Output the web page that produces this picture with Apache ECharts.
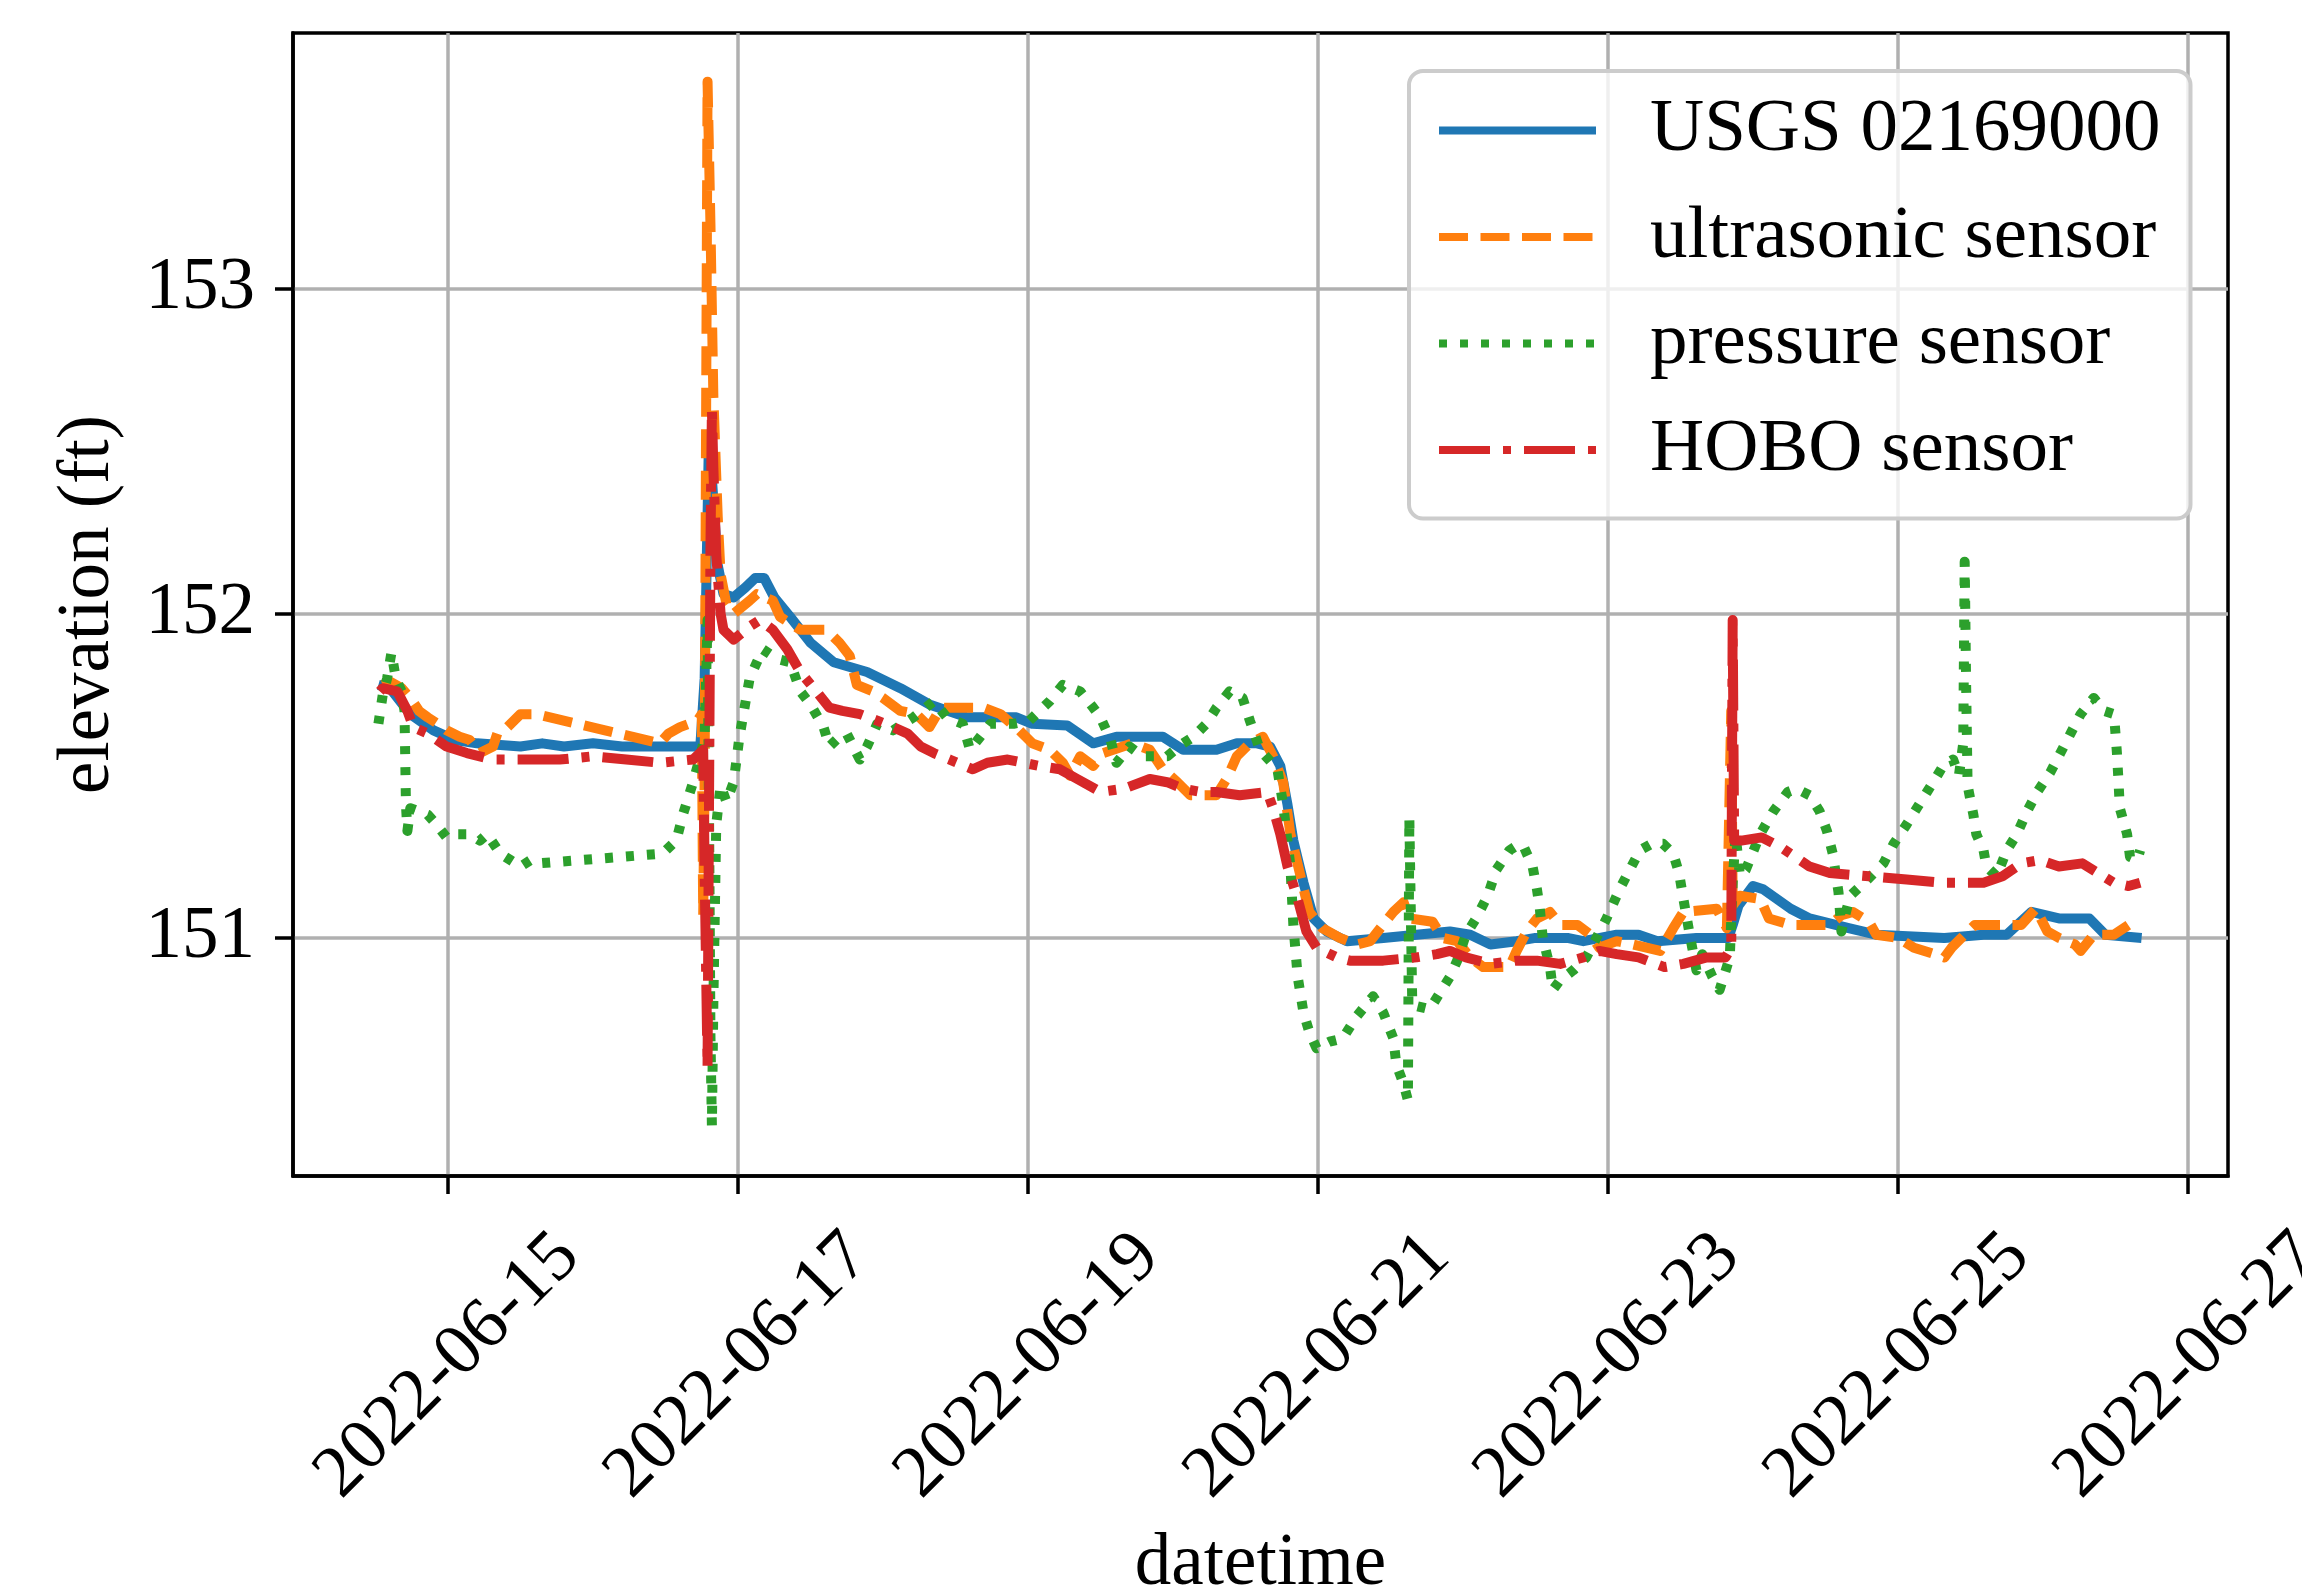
<!DOCTYPE html>
<html><head><meta charset="utf-8">
<script src="https://cdn.jsdelivr.net/npm/echarts@6/dist/echarts.min.js"></script>
<style>html,body{margin:0;padding:0;background:#fff}#chart{width:2302px;height:1588px}</style>
</head><body><div id="chart"></div>
<script>
// x values: fractional day of June 2022 (e.g. 14.5 = 2022-06-14 12:00)
const xTickDays = [15, 17, 19, 21, 23, 25, 27];
const yTicks = [151, 152, 153];
const seriesNames = ['USGS 02169000', 'ultrasonic sensor', 'pressure sensor', 'HOBO sensor'];

const usgsData = [[14.52,151.78],[14.60,151.77],[14.74,151.69],[14.90,151.64],[15.05,151.61],[15.2,151.60],[15.5,151.59],[15.65,151.60],[15.8,151.59],[16.0,151.60],[16.2,151.59],[16.5,151.59],[16.74,151.59],[16.77,151.80],[16.79,152.30],[16.80,152.55],[16.83,152.35],[16.86,152.15],[16.90,152.06],[16.97,152.05],[17.05,152.08],[17.12,152.11],[17.18,152.11],[17.25,152.05],[17.36,151.99],[17.5,151.91],[17.66,151.85],[17.89,151.82],[18.12,151.77],[18.32,151.72],[18.58,151.68],[18.92,151.68],[19.03,151.66],[19.27,151.655],[19.45,151.60],[19.61,151.62],[19.93,151.62],[20.07,151.58],[20.30,151.58],[20.44,151.60],[20.58,151.60],[20.67,151.59],[20.74,151.53],[20.79,151.41],[20.83,151.30],[20.90,151.17],[20.97,151.06],[21.06,151.02],[21.20,150.99],[21.45,151.00],[21.68,151.01],[21.91,151.02],[22.05,151.01],[22.19,150.98],[22.37,150.99],[22.5,151.00],[22.72,151.00],[22.83,150.99],[23.06,151.01],[23.21,151.01],[23.34,150.99],[23.61,151.00],[23.83,151.00],[23.86,151.04],[23.90,151.10],[24.00,151.16],[24.07,151.15],[24.26,151.09],[24.39,151.06],[24.66,151.03],[24.85,151.01],[25.32,151.00],[25.59,151.01],[25.75,151.01],[25.92,151.08],[26.11,151.06],[26.32,151.06],[26.43,151.01],[26.68,151.00]];

const ultrasonicData = [[14.55,151.78],[14.60,151.79],[14.68,151.77],[14.74,151.74],[14.80,151.70],[14.86,151.68],[14.93,151.66],[14.99,151.64],[15.08,151.62],[15.15,151.61],[15.22,151.57],[15.31,151.59],[15.34,151.63],[15.41,151.65],[15.50,151.69],[15.61,151.69],[16.46,151.60],[16.52,151.63],[16.60,151.65],[16.72,151.67],[16.75,151.69],[16.76,151.07],[16.77,151.5],[16.78,152.6],[16.79,153.64],[16.81,153.2],[16.83,152.67],[16.86,152.3],[16.88,152.12],[16.92,152.03],[16.97,152.0],[17.08,152.04],[17.13,152.06],[17.24,152.04],[17.29,151.99],[17.36,151.97],[17.43,151.95],[17.61,151.95],[17.70,151.91],[17.77,151.87],[17.82,151.78],[17.93,151.76],[18.0,151.74],[18.12,151.70],[18.23,151.69],[18.32,151.65],[18.40,151.71],[18.69,151.71],[18.81,151.69],[18.94,151.64],[19.03,151.60],[19.15,151.58],[19.24,151.54],[19.29,151.50],[19.36,151.56],[19.45,151.53],[19.52,151.57],[19.72,151.60],[19.84,151.58],[19.93,151.52],[20.03,151.48],[20.12,151.44],[20.30,151.44],[20.37,151.49],[20.44,151.56],[20.53,151.60],[20.62,151.62],[20.69,151.56],[20.76,151.48],[20.81,151.32],[20.88,151.19],[20.94,151.08],[21.03,151.03],[21.15,151.00],[21.27,150.98],[21.36,150.99],[21.43,151.03],[21.52,151.08],[21.59,151.11],[21.63,151.06],[21.79,151.05],[21.86,151.00],[21.96,150.99],[22.05,150.94],[22.14,150.91],[22.32,150.91],[22.37,150.96],[22.44,151.02],[22.51,151.06],[22.60,151.08],[22.67,151.04],[22.79,151.04],[22.88,151.01],[22.94,150.97],[23.06,150.99],[23.17,150.98],[23.36,150.96],[23.45,151.03],[23.52,151.08],[23.75,151.09],[23.82,151.03],[23.85,151.70],[23.86,151.10],[23.91,151.13],[24.05,151.12],[24.11,151.06],[24.26,151.04],[24.53,151.04],[24.61,151.07],[24.69,151.08],[24.80,151.05],[24.85,151.01],[25.00,151.00],[25.11,150.97],[25.32,150.94],[25.37,150.97],[25.46,151.01],[25.53,151.04],[25.85,151.04],[25.95,151.09],[26.03,151.02],[26.11,151.00],[26.22,150.98],[26.26,150.96],[26.35,151.01],[26.49,151.01],[26.59,151.04],[26.67,151.03]];

const pressureData = [[14.52,151.66],[14.55,151.75],[14.58,151.80],[14.61,151.88],[14.64,151.80],[14.68,151.76],[14.70,151.70],[14.71,151.41],[14.72,151.33],[14.74,151.40],[14.80,151.39],[14.86,151.38],[14.92,151.35],[14.99,151.31],[15.07,151.32],[15.15,151.32],[15.22,151.30],[15.27,151.32],[15.36,151.26],[15.43,151.24],[15.50,151.22],[15.57,151.24],[15.63,151.23],[16.48,151.26],[16.55,151.29],[16.58,151.31],[16.62,151.38],[16.69,151.48],[16.74,151.56],[16.77,151.62],[16.79,151.98],[16.80,151.4],[16.81,150.7],[16.82,150.42],[16.83,150.8],[16.85,151.35],[16.88,151.47],[16.92,151.42],[16.97,151.48],[17.01,151.62],[17.08,151.80],[17.17,151.89],[17.27,151.86],[17.36,151.85],[17.43,151.76],[17.50,151.72],[17.59,151.65],[17.63,151.59],[17.70,151.62],[17.75,151.63],[17.84,151.55],[17.89,151.59],[17.96,151.66],[18.07,151.64],[18.21,151.68],[18.35,151.73],[18.44,151.68],[18.55,151.66],[18.60,151.58],[18.67,151.62],[18.74,151.66],[18.90,151.66],[19.01,151.67],[19.15,151.73],[19.24,151.78],[19.36,151.76],[19.45,151.71],[19.50,151.68],[19.57,151.61],[19.61,151.54],[19.70,151.59],[19.79,151.56],[19.96,151.56],[20.07,151.60],[20.14,151.62],[20.23,151.66],[20.30,151.71],[20.39,151.76],[20.48,151.74],[20.53,151.67],[20.60,151.58],[20.72,151.52],[20.76,151.41],[20.81,151.22],[20.83,151.04],[20.86,150.88],[20.90,150.77],[20.94,150.71],[20.99,150.66],[21.08,150.68],[21.17,150.69],[21.27,150.76],[21.38,150.82],[21.45,150.77],[21.52,150.69],[21.54,150.61],[21.59,150.55],[21.62,150.50],[21.63,151.37],[21.65,150.80],[21.68,150.79],[21.77,150.78],[21.84,150.83],[21.91,150.88],[21.96,150.93],[22.02,151.01],[22.09,151.06],[22.17,151.13],[22.23,151.21],[22.32,151.27],[22.39,151.29],[22.42,151.28],[22.48,151.22],[22.51,151.15],[22.53,151.09],[22.55,151.00],[22.60,150.91],[22.62,150.84],[22.67,150.87],[22.76,150.90],[22.85,150.94],[22.92,151.00],[22.99,151.06],[23.08,151.15],[23.15,151.21],[23.22,151.27],[23.30,151.29],[23.38,151.29],[23.45,151.26],[23.49,151.20],[23.52,151.12],[23.56,151.02],[23.61,150.90],[23.65,150.95],[23.72,150.88],[23.77,150.84],[23.84,150.94],[23.86,151.17],[23.88,151.32],[23.91,151.19],[23.95,151.21],[24.05,151.32],[24.14,151.39],[24.24,151.45],[24.30,151.46],[24.39,151.44],[24.46,151.39],[24.51,151.33],[24.55,151.26],[24.59,151.14],[24.61,151.02],[24.63,151.06],[24.67,151.13],[24.79,151.18],[24.90,151.23],[24.97,151.29],[25.06,151.35],[25.13,151.40],[25.20,151.45],[25.27,151.50],[25.31,151.53],[25.38,151.55],[25.42,151.50],[25.45,151.60],[25.46,152.16],[25.47,151.78],[25.48,151.47],[25.52,151.38],[25.54,151.32],[25.59,151.27],[25.61,151.22],[25.68,151.19],[25.75,151.27],[25.82,151.32],[25.89,151.39],[25.96,151.45],[26.05,151.51],[26.12,151.57],[26.19,151.63],[26.26,151.69],[26.35,151.74],[26.42,151.70],[26.49,151.69],[26.50,151.63],[26.51,151.57],[26.52,151.49],[26.53,151.40],[26.58,151.32],[26.60,151.25],[26.65,151.24],[26.67,151.27]];

const hoboData = [[14.53,151.76],[14.55,151.77],[14.65,151.76],[14.72,151.70],[14.76,151.65],[14.86,151.63],[14.99,151.59],[15.13,151.57],[15.31,151.55],[15.54,151.55],[15.77,151.55],[16.0,151.56],[16.23,151.55],[16.46,151.54],[16.69,151.55],[16.76,151.58],[16.77,151.2],[16.79,150.60],[16.80,151.4],[16.81,152.2],[16.82,152.63],[16.83,152.45],[16.85,152.18],[16.88,152.0],[16.90,151.95],[16.97,151.92],[17.08,151.96],[17.15,151.98],[17.24,151.95],[17.34,151.89],[17.43,151.82],[17.54,151.76],[17.63,151.71],[17.72,151.70],[17.84,151.69],[17.96,151.67],[18.07,151.65],[18.17,151.63],[18.26,151.59],[18.35,151.57],[18.46,151.55],[18.62,151.52],[18.72,151.54],[18.86,151.55],[18.97,151.54],[19.08,151.53],[19.22,151.52],[19.34,151.49],[19.50,151.45],[19.66,151.46],[19.84,151.49],[19.96,151.48],[20.07,151.46],[20.19,151.45],[20.30,151.45],[20.46,151.44],[20.65,151.45],[20.69,151.40],[20.74,151.32],[20.79,151.22],[20.86,151.12],[20.92,151.02],[20.99,150.97],[21.13,150.94],[21.22,150.93],[21.45,150.93],[21.68,150.94],[21.82,150.95],[21.91,150.96],[22.02,150.94],[22.19,150.92],[22.37,150.93],[22.51,150.93],[22.67,150.92],[22.83,150.94],[22.94,150.96],[23.06,150.95],[23.21,150.94],[23.39,150.91],[23.52,150.92],[23.68,150.94],[23.81,150.94],[23.85,150.97],[23.86,151.98],[23.87,151.3],[23.92,151.30],[24.06,151.31],[24.19,151.28],[24.29,151.25],[24.39,151.22],[24.53,151.20],[24.80,151.19],[25.06,151.18],[25.32,151.17],[25.59,151.17],[25.72,151.19],[25.85,151.23],[25.98,151.24],[26.11,151.22],[26.27,151.23],[26.38,151.20],[26.49,151.17],[26.59,151.16],[26.67,151.17]];

const DAY = 86400000;
const BASE = Date.UTC(2022, 4, 31); // "day 0 of June"
const toMs = d => BASE + d * DAY;

const colors = ['#1f77b4', '#ff7f0e', '#2ca02c', '#d62728'];
const dashes = ['solid', [29, 12.5], [8, 13], [51, 13, 8, 13]];
const allData = [usgsData, ultrasonicData, pressureData, hoboData];
const FONT = 'Liberation Serif';
const FS = 73;
const LW = 8;
const DATA_LW = 10;

const chart = echarts.init(document.getElementById('chart'), null, {renderer: 'canvas'});
chart.setOption({
  animation: false,
  backgroundColor: '#ffffff',
  textStyle: {fontFamily: FONT, color: '#000'},
  grid: {left: 293, right: 74, top: 33, bottom: 412, show: true, borderColor: '#000', borderWidth: 3.5,
         backgroundColor: 'transparent', containLabel: false, outerBoundsMode: 'none'},
  legend: {
    orient: 'vertical', left: 1409, top: 71,
    padding: [22, 30, 31, 26],
    itemWidth: 157, itemHeight: 2, itemGap: 31.5,
    backgroundColor: 'rgba(255,255,255,0.8)', borderColor: '#cccccc', borderWidth: 4, borderRadius: 14,
    textStyle: {fontFamily: FONT, fontSize: 75, color: '#000', padding: [0, 0, 0, 49]},
    itemStyle: {opacity: 0},
    lineStyle: {width: LW},
    selectedMode: false,
    data: seriesNames
  },
  xAxis: {
    type: 'value',
    min: toMs(13.931), max: toMs(27.276),
    name: 'datetime', nameLocation: 'middle', nameGap: 352,
    nameTextStyle: {fontFamily: FONT, fontSize: FS, color: '#000'},
    axisLine: {show: true, onZero: false, lineStyle: {color: '#000', width: 3.5}},
    axisTick: {show: true, inside: false, length: 18, lineStyle: {color: '#000', width: 3.5}, customValues: xTickDays.map(toMs)},
    axisLabel: {
      customValues: xTickDays.map(toMs), rotate: 45, align: 'center', verticalAlign: 'middle', margin: 190,
      fontFamily: FONT, fontSize: FS, color: '#000',
      formatter: v => new Date(v).toISOString().slice(0, 10)
    },
    splitLine: {show: true, lineStyle: {color: '#b0b0b0', width: 3.5}}
  },
  yAxis: {
    type: 'value', min: 150.266, max: 153.79,
    name: 'elevation (ft)', nameLocation: 'middle', nameGap: 168, nameRotate: 90,
    nameTextStyle: {fontFamily: FONT, fontSize: FS, color: '#000'},
    axisLine: {show: true, onZero: false, lineStyle: {color: '#000', width: 3.5}},
    axisTick: {show: true, inside: false, length: 18, lineStyle: {color: '#000', width: 3.5}, customValues: yTicks},
    axisLabel: {customValues: yTicks, margin: 38, fontFamily: FONT, fontSize: FS, color: '#000'},
    splitLine: {show: true, lineStyle: {color: '#b0b0b0', width: 3.5}}
  },
  series: allData.map((d, i) => ({
    name: seriesNames[i], type: 'line', symbol: 'none', showSymbol: false,
    color: colors[i],
    data: d.map(p => [toMs(p[0]), p[1]]),
    lineStyle: {color: colors[i], width: DATA_LW, type: dashes[i], cap: 'butt', join: 'round'},
    emphasis: {disabled: true}
  }))
});
</script></body></html>
